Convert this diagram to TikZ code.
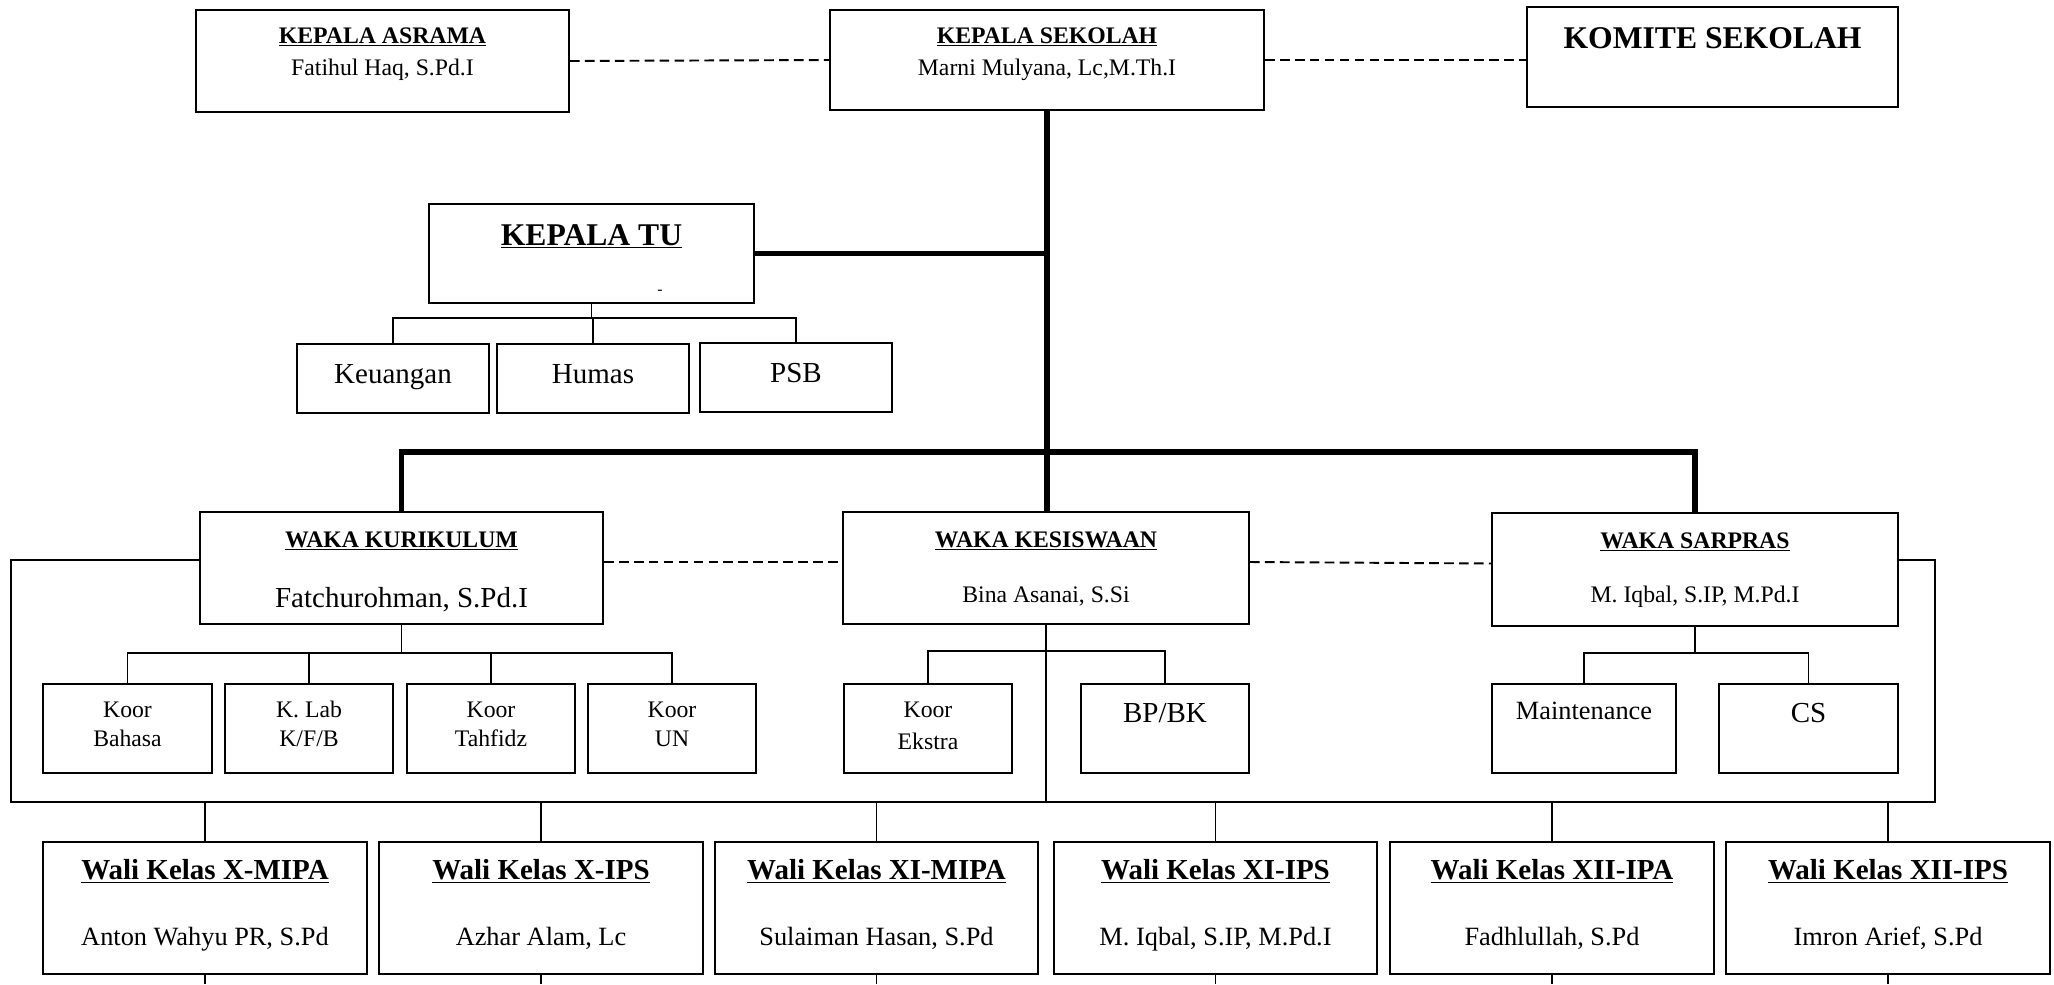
\documentclass[tikz,border=0pt]{standalone}
\usepackage{fontspec}
\setmainfont{Liberation Serif}
\newcommand{\fs}[1]{\fontsize{#1}{#1}\selectfont}

\begin{document}
\begin{tikzpicture}[x=0.02cm, y=-0.02cm, line width=1pt,
  box/.style 2 args={draw, line width=1.1pt, inner sep=0pt, minimum width=#1*0.02cm, minimum height=#2*0.02cm},
  judul/.style={anchor=base, inner sep=0pt, font=\bfseries\fs{#1}},
  judul/.default=13.5,
  isi/.style={anchor=base, inner sep=0pt, font=\fs{#1}},
  isi/.default=13.5,
  tebal/.style={line width=3pt},
  putus/.style={line width=1.1pt, dash pattern=on 5.5pt off 3pt}]
\useasboundingbox (0,0) rectangle (2054,984);

\node[box={373}{102}] (asrama) at (382.5,61) {};
\node[box={434}{100}] (sekolah) at (1047,60) {};
\node[box={371}{100}] (komite) at (1712.5,57) {};
\node[box={325}{99}] (tu) at (591.5,253.5) {};
\node[box={192}{69}] (keu) at (393,378.5) {};
\node[box={192}{69}] (humas) at (593,378.5) {};
\node[box={192}{69}] (psb) at (796,377.5) {};

\node[box={403}{112}] (kur) at (401.5,568) {};
\node[box={406}{112}] (kes) at (1046,568) {};
\node[box={406}{113}] (sar) at (1695,569.5) {};

\node[box={169}{89}] (bhs) at (127.5,728.5) {};
\node[box={168}{89}] (lab) at (309,728.5) {};
\node[box={168}{89}] (thf) at (491,728.5) {};
\node[box={168}{89}] (un) at (672,728.5) {};
\node[box={168}{89}] (eks) at (928,728.5) {};
\node[box={168}{89}] (bk) at (1165,728.5) {};
\node[box={184}{89}] (mnt) at (1584,728.5) {};
\node[box={179}{89}] (cs) at (1808.5,728.5) {};

\node[box={324}{132}] (w1) at (205,908) {};
\node[box={324}{132}] (w2) at (541,908) {};
\node[box={323}{132}] (w3) at (876.5,908) {};
\node[box={323}{132}] (w4) at (1215.5,908) {};
\node[box={324}{132}] (w5) at (1552,908) {};
\node[box={324}{132}] (w6) at (1888,908) {};

\node[judul] (asrama-a) at (382.5,43) {\underline{KEPALA ASRAMA}};
\node[isi] (asrama-b) at (382.5,75) {Fatihul Haq, S.Pd.I};
\node[judul] (sekolah-a) at (1047,43) {\underline{KEPALA SEKOLAH}};
\node[isi] (sekolah-b) at (1047,75) {Marni Mulyana, Lc,M.Th.I};
\node[judul=18] (komite-a) at (1712.5,48) {KOMITE SEKOLAH};
\node[judul=18] (tu-a) at (591.5,245) {\underline{KEPALA TU}};
\node[font=\fs{9}, inner sep=0pt] (tu-b) at (660,292) {-};
\node[isi=16.5] (keu-a) at (393,383) {Keuangan};
\node[isi=16.5] (humas-a) at (593,383) {Humas};
\node[isi=16.5] (psb-a) at (796,382) {PSB};

\node[judul] (kur-a) at (401.5,547) {\underline{WAKA KURIKULUM}};
\node[isi=16.5] (kur-b) at (401.5,607) {Fatchurohman, S.Pd.I};
\node[judul] (kes-a) at (1046,547) {\underline{WAKA KESISWAAN}};
\node[isi] (kes-b) at (1046,602) {Bina Asanai, S.Si};
\node[judul] (sar-a) at (1695,548) {\underline{WAKA SARPRAS}};
\node[isi] (sar-b) at (1695,602) {M. Iqbal, S.IP, M.Pd.I};

\node[isi] (bhs-a) at (127.5,717) {Koor};
\node[isi] (bhs-b) at (127.5,746) {Bahasa};
\node[isi] (lab-a) at (309,717) {K. Lab};
\node[isi] (lab-b) at (309,746) {K/F/B};
\node[isi] (thf-a) at (491,717) {Koor};
\node[isi] (thf-b) at (491,746) {Tahfidz};
\node[isi] (un-a) at (672,717) {Koor};
\node[isi] (un-b) at (672,746) {UN};
\node[isi] (eks-a) at (928,717) {Koor};
\node[isi] (eks-b) at (928,749) {Ekstra};
\node[isi=16.5] (bk-a) at (1165,722) {BP/BK};
\node[isi=15] (mnt-a) at (1584,719) {Maintenance};
\node[isi=16.5] (cs-a) at (1808.5,722) {CS};

\node[judul=16.5] (w1-a) at (205,879) {\underline{Wali Kelas X-MIPA}};
\node[isi=15] (w1-b) at (205,945) {Anton Wahyu PR, S.Pd};
\node[judul=16.5] (w2-a) at (541,879) {\underline{Wali Kelas X-IPS}};
\node[isi=15] (w2-b) at (541,945) {Azhar Alam, Lc};
\node[judul=16.5] (w3-a) at (876.5,879) {\underline{Wali Kelas XI-MIPA}};
\node[isi=15] (w3-b) at (876.5,945) {Sulaiman Hasan, S.Pd};
\node[judul=16.5] (w4-a) at (1215.5,879) {\underline{Wali Kelas XI-IPS}};
\node[isi=15] (w4-b) at (1215.5,945) {M. Iqbal, S.IP, M.Pd.I};
\node[judul=16.5] (w5-a) at (1552,879) {\underline{Wali Kelas XII-IPA}};
\node[isi=15] (w5-b) at (1552,945) {Fadhlullah, S.Pd};
\node[judul=16.5] (w6-a) at (1888,879) {\underline{Wali Kelas XII-IPS}};
\node[isi=15] (w6-b) at (1888,945) {Imron Arief, S.Pd};

\coordinate (hub) at (1047,452);
\coordinate (tubus) at (591.5,318);
\coordinate (kbus) at (401.5,653);
\coordinate (ebus) at (1046,651);
\coordinate (sbus) at (1695,653);
\coordinate (fTL) at (11,560);
\coordinate (fBL) at (11,802);
\coordinate (fBR) at (1935,802);
\coordinate (fTR) at (1935,560);
\coordinate (bawah) at (0,984);

\draw[putus] (asrama.east) -- (sekolah.west);
\draw[putus] (sekolah.east) -- (sekolah.east -| komite.west);
\draw[putus] ([yshift=0.12cm]kur.east) -- ([yshift=0.12cm]kes.west);
\draw[putus] ([yshift=0.12cm]kes.east) -- ([yshift=0.12cm]sar.west);

\draw[tebal] (sekolah.south) -- (sekolah.south |- kes.north);
\draw[tebal] (kur.north) |- (hub) -| (sar.north);
\draw[tebal] (tu.east) -- (tu.east -| hub);

\draw (tu.south) -- (tubus);
\draw (keu.north) |- (tubus) -| (psb.north);
\draw (humas.north |- tubus) -- (humas.north);

\draw (kur.south) -- (kbus);
\draw (bhs.north) |- (kbus) -| (un.north);
\draw (lab.north) -- (lab.north |- kbus);
\draw (thf.north) -- (thf.north |- kbus);

\draw (kes.south) -- (kes.south |- fBL);
\draw (eks.north) |- (ebus) -| (bk.north);

\draw (sar.south) -- (sbus);
\draw (mnt.north) |- (sbus) -| (cs.north);

\draw (kur.west |- fTL) -- (fTL) -- (fBL) -- (fBR) -- (fTR) -- (sar.east |- fTR);

\foreach \w in {w1,w2,w3,w4,w5,w6}
  \draw[line width=0.8pt] (\w.north) -- (\w.north |- fBL) (\w.south) -- (\w.south |- bawah);
\end{tikzpicture}
\end{document}
